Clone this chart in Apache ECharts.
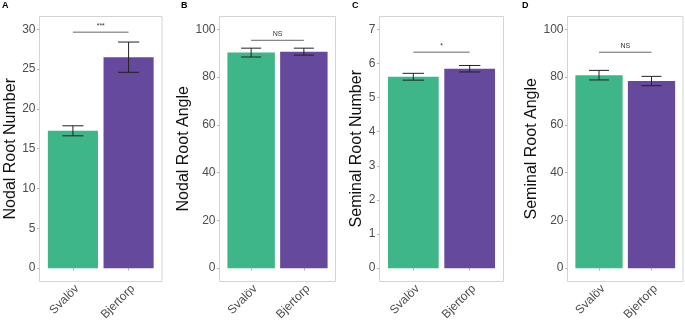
<!DOCTYPE html>
<html>
<head>
<meta charset="utf-8">
<script src="https://cdn.jsdelivr.net/npm/echarts@6/dist/echarts.min.js"></script>
<style>html,body{margin:0;padding:0;background:#fff;}#c{width:685px;height:323px;}</style>
</head>
<body>
<div id="c"></div>
<script>
// ---- data ----
const categories = ['Svalöv', 'Bjertorp'];
const panelLetters = ['A', 'B', 'C', 'D'];
const yTitles = ['Nodal Root Number', 'Nodal Root Angle', 'Seminal Root Number', 'Seminal Root Angle'];
const nodalRootNumber = [17.25, 26.5];
const nodalRootNumberSE = [0.63, 1.9];
const nodalRootAngle = [90.25, 90.65];
const nodalRootAngleSE = [1.85, 1.45];
const seminalRootNumber = [5.61, 5.845];
const seminalRootNumberSE = [0.1, 0.095];
const seminalRootAngle = [80.8, 78.35];
const seminalRootAngleSE = [2.0, 1.95];
const sigLabels = ['***', 'NS', '*', 'NS'];
const sigY = [29.64, 95.4, 6.33, 90.4];
const yMax = [30, 100, 7, 100];
const yInterval = [5, 20, 1, 20];

const values = [nodalRootNumber, nodalRootAngle, seminalRootNumber, seminalRootAngle];
const ses = [nodalRootNumberSE, nodalRootAngleSE, seminalRootNumberSE, seminalRootAngleSE];
const barColors = ['#3fb68a', '#64499c'];

// ---- layout ----
const boxL = [39.5, 219.5, 379.5, 567.5];
const boxR = [162, 335.5, 503.5, 683];
const boxTop = 16.5, boxBottom = 281.5;
const dataTop = 29.3, dataBottom = 270;
const nameGaps = [14, 22, 3, 22];
const letterX = [2, 181, 352, 522];

const grid = [], xAxis = [], yAxis = [], series = [], title = [];
// box grids
for (let p = 0; p < 4; p++) {
  grid.push({left: boxL[p], top: boxTop, width: boxR[p] - boxL[p], height: boxBottom - boxTop,
    show: true, borderColor: '#d4d4d4', borderWidth: 1, backgroundColor: '#fff'});
  xAxis.push({gridIndex: p, type: 'value', show: false});
  yAxis.push({gridIndex: p, type: 'value', show: false});
}
// data grids
for (let p = 0; p < 4; p++) {
  const w = boxR[p] - boxL[p];
  const inset = w / 22;
  const gi = 4 + p;
  grid.push({left: boxL[p] + inset, top: dataTop, width: w - 2 * inset, height: dataBottom - dataTop});
  xAxis.push({gridIndex: gi, type: 'category', data: categories, offset: boxBottom - dataBottom,
    axisLine: {show: false},
    axisTick: {show: true, alignWithLabel: true, length: 2.5, lineStyle: {color: '#b8b8b8'}},
    axisLabel: {rotate: 45, fontSize: 12, color: '#4d4d4d', margin: 3, verticalAlign: 'top', align: 'right',
      fontFamily: 'Liberation Sans, Arial'}});
  yAxis.push({gridIndex: gi, type: 'value', min: 0, max: yMax[p], interval: yInterval[p], offset: inset,
    name: yTitles[p], nameLocation: 'middle', nameGap: nameGaps[p], nameRotate: 90,
    nameTextStyle: {fontSize: 16, color: '#111', fontFamily: 'Liberation Sans, Arial'},
    splitLine: {show: false}, axisLine: {show: false},
    axisTick: {show: true, length: 2.5, lineStyle: {color: '#b8b8b8'}},
    axisLabel: {fontSize: 12, color: '#4d4d4d', margin: 4, fontFamily: 'Liberation Sans, Arial'}});
  series.push({type: 'bar', xAxisIndex: gi, yAxisIndex: gi, barWidth: '90%',
    data: values[p].map((v, i) => ({value: v, itemStyle: {color: barColors[i]}})), silent: true});
  series.push({type: 'custom', xAxisIndex: gi, yAxisIndex: gi, z: 5, silent: true,
    data: values[p].map((v, i) => [i, v - ses[p][i], v + ses[p][i]]),
    renderItem: function (params, api) {
      const lo = api.coord([api.value(0), api.value(1)]);
      const hi = api.coord([api.value(0), api.value(2)]);
      const hw = api.size([1, 0])[0] * 0.19;
      const st = {stroke: '#222', lineWidth: 1};
      return {type: 'group', children: [
        {type: 'line', shape: {x1: lo[0], y1: lo[1], x2: hi[0], y2: hi[1]}, style: st},
        {type: 'line', shape: {x1: lo[0] - hw, y1: lo[1], x2: lo[0] + hw, y2: lo[1]}, style: st},
        {type: 'line', shape: {x1: hi[0] - hw, y1: hi[1], x2: hi[0] + hw, y2: hi[1]}, style: st}
      ]};
    }});
  series.push({type: 'custom', xAxisIndex: gi, yAxisIndex: gi, z: 5, silent: true,
    data: [[sigY[p]]],
    renderItem: function (params, api) {
      const a = api.coord([0, api.value(0)]);
      const b = api.coord([1, api.value(0)]);
      return {type: 'group', children: [
        {type: 'line', shape: {x1: a[0], y1: a[1], x2: b[0], y2: b[1]}, style: {stroke: '#666', lineWidth: 1}},
        {type: 'text', style: {text: sigLabels[p], x: (a[0] + b[0]) / 2, y: a[1] - 2.5, align: 'center', verticalAlign: 'bottom',
          fontSize: 7, fill: '#333', fontFamily: 'Liberation Sans, Arial'}}
      ]};
    }});
  title.push({text: panelLetters[p], left: letterX[p], top: 1, padding: 0,
    textStyle: {fontSize: 9, fontWeight: 'bold', color: '#000', fontFamily: 'Liberation Sans, Arial'}});
}

const chart = echarts.init(document.getElementById('c'), null, {renderer: 'canvas'});
chart.setOption({animation: false, backgroundColor: '#fff', title, grid, xAxis, yAxis, series});
</script>
</body>
</html>
